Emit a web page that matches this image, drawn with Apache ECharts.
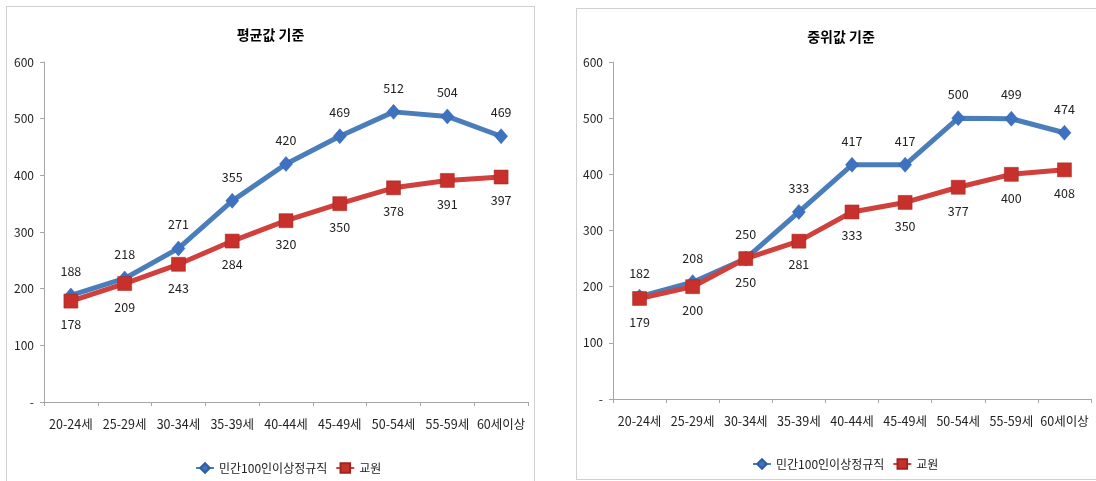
<!DOCTYPE html>
<html><head><meta charset="utf-8">
<script src="https://cdn.jsdelivr.net/npm/echarts@6/dist/echarts.min.js"></script>
<style>
html,body{margin:0;padding:0;background:#fff;width:1096px;height:481px;overflow:hidden;}
.box{position:absolute;border:1px solid #d0d0d0;background:#fff;box-sizing:border-box;}
#c1{left:6px;top:6px;width:529px;height:482px;}
#c2{left:576px;top:8px;width:530px;height:472px;}
</style></head>
<body>
<div id="c1" class="box"></div>
<div id="c2" class="box"></div>
<script>
const categories = ['20-24세','25-29세','30-34세','35-39세','40-44세','45-49세','50-54세','55-59세','60세이상'];
const seriesNames = ['민간100인이상정규직','교원'];
const meanPrivate = [188,218,271,355,420,469,512,504,469];
const meanTeacher = [178,209,243,284,320,350,378,391,397];
const medianPrivate = [182,208,250,333,417,417,500,499,474];
const medianTeacher = [179,200,250,281,333,350,377,400,408];
const titles = ['평균값 기준','중위값 기준'];

const FONT = '"Liberation Sans Narrow","Noto Sans CJK KR",sans-serif';

function makeOption(title, a, b, grid, legendPos){
  return {
    animation:false,
    title:{text:title,left:'center',top:16,textStyle:{fontFamily:'"Noto Sans CJK KR",sans-serif',fontSize:14,fontWeight:'bold',color:'#000'}},
    legend:Object.assign({itemWidth:18,itemHeight:12,itemGap:8,
      textStyle:{fontFamily:FONT,fontSize:12,color:'#222'},data:seriesNames},legendPos),
    grid:grid,
    xAxis:{type:'category',data:categories,boundaryGap:true,
      axisLine:{lineStyle:{color:'#a6a6a6'}},
      axisTick:{show:true,inside:false,length:4,lineStyle:{color:'#a6a6a6'}},
      axisLabel:{margin:16,fontFamily:FONT,fontSize:12.5,color:'#222',interval:0},
      splitLine:{show:false}},
    yAxis:{type:'value',min:0,max:600,interval:100,
      axisLine:{show:true,lineStyle:{color:'#a6a6a6'}},
      axisTick:{show:true,length:4,lineStyle:{color:'#a6a6a6'}},
      axisLabel:{margin:10,fontFamily:FONT,fontSize:12,color:'#222',formatter:v=>v===0?'-':String(v)},
      splitLine:{show:false}},
    series:[
      {name:seriesNames[0],type:'line',data:a,symbol:'diamond',symbolSize:[13,15],
        lineStyle:{color:'#4A7EBB',width:5},itemStyle:{color:'#3D72C2',borderColor:'#2F5E9E',borderWidth:0.5},
        label:{show:true,position:'top',distance:10,fontFamily:FONT,fontSize:12.5,color:'#222'},z:2},
      {name:seriesNames[1],type:'line',data:b,symbol:'rect',symbolSize:14,
        lineStyle:{color:'#D0403C',width:5},itemStyle:{color:'#C8302C',borderColor:'#9E2420',borderWidth:0.5},
        label:{show:true,position:'bottom',distance:10,fontFamily:FONT,fontSize:12.5,color:'#222'},z:3}
    ]
  };
}

const ch1 = echarts.init(document.getElementById('c1'),null,{renderer:'canvas'});
ch1.setOption(makeOption(titles[0],meanPrivate,meanTeacher,{left:37,top:55,width:484,height:340},{left:183,top:450}));
const ch2 = echarts.init(document.getElementById('c2'),null,{renderer:'canvas'});
ch2.setOption(makeOption(titles[1],medianPrivate,medianTeacher,{left:36,top:53,width:478,height:337},{left:170,top:444}));
</script>
</body></html>
